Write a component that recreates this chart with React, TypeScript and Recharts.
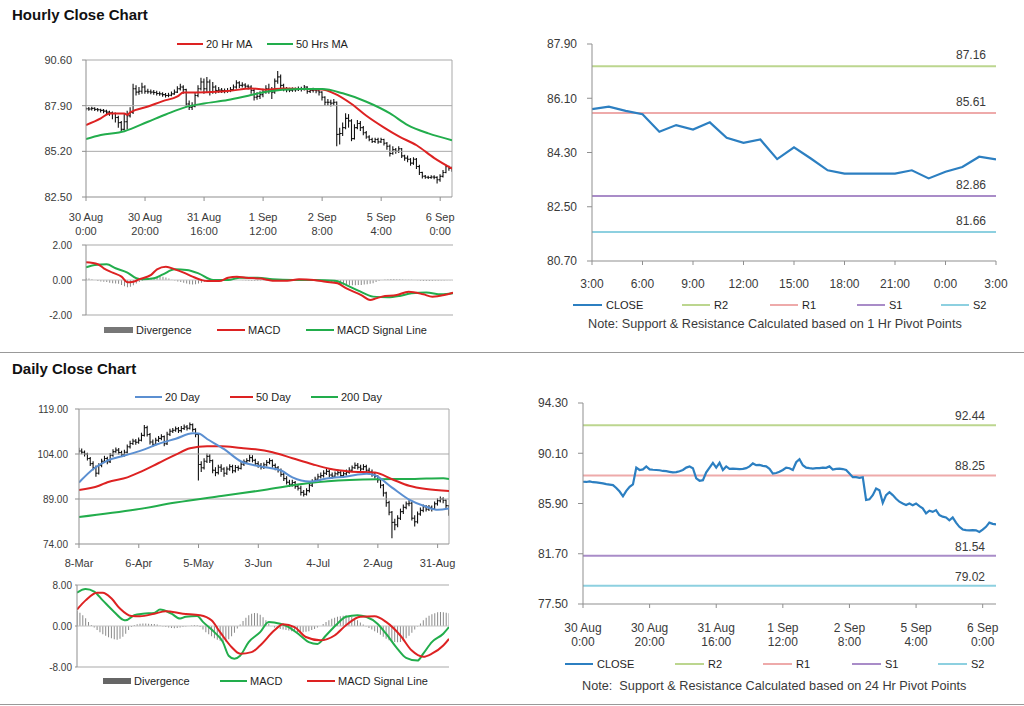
import React from 'react';
import { ComposedChart, LineChart, Line, Bar, XAxis, YAxis, ReferenceLine } from 'recharts';

// ---- hourly chart: 30 Aug 0:00 .. 6 Sep 4:00, one bar per hour ----
const hourTickIdx = [0, 20, 40, 60, 80, 100, 120];
const hourTickLabels = [
  ['30 Aug', '0:00'], ['30 Aug', '20:00'], ['31 Aug', '16:00'], ['1 Sep', '12:00'],
  ['2 Sep', '8:00'], ['5 Sep', '4:00'], ['6 Sep', '0:00'],
];
const hourClose = [
  87.72, 87.70, 87.74, 87.68, 87.66, 87.62, 87.58, 87.52, 87.48, 87.44,
  87.20, 86.90, 86.50, 86.95, 87.30, 87.50, 88.90, 88.70, 88.75, 89.00,
  88.75, 88.72, 88.70, 88.68, 88.62, 88.60, 88.55, 88.50, 88.52, 88.60,
  88.70, 88.90, 89.00, 88.85, 88.00, 87.80, 87.85, 88.50, 88.90, 89.30,
  88.90, 89.30, 88.70, 89.00, 88.80, 88.82, 88.80, 88.78, 88.80, 88.85,
  89.00, 89.25, 89.10, 89.12, 89.05, 89.00, 88.80, 88.40, 88.45, 88.55,
  88.70, 88.90, 88.85, 88.70, 89.35, 89.60, 89.10, 88.90, 88.85, 88.82,
  88.85, 88.85, 88.90, 88.88, 89.00, 88.74, 88.80, 88.82, 88.78, 88.70,
  88.40, 88.10, 88.10, 88.05, 88.10, 86.20, 86.25, 86.60, 87.15, 87.00,
  85.95, 86.60, 86.85, 86.60, 86.30, 86.05, 85.90, 85.78, 85.90, 85.76,
  85.90, 85.68, 85.50, 85.07, 85.30, 85.20, 85.35, 84.93, 84.80, 84.73,
  84.50, 84.73, 84.30, 83.95, 83.73, 83.67, 83.65, 83.68, 83.66, 83.52,
  83.72, 83.95, 84.30, 84.20, 84.15,
];
const hourHigh = [
  87.80, 87.82, 87.84, 87.80, 87.76, 87.72, 87.70, 87.66, 87.60, 87.56,
  87.50, 87.30, 87.00, 87.40, 87.60, 87.80, 89.20, 89.10, 89.00, 89.25,
  89.10, 88.90, 88.85, 88.82, 88.78, 88.74, 88.70, 88.65, 88.66, 88.74,
  88.85, 89.05, 89.20, 89.10, 88.90, 88.20, 88.10, 88.70, 89.10, 89.55,
  89.50, 89.60, 89.45, 89.30, 89.10, 89.00, 88.95, 88.92, 88.94, 89.00,
  89.15, 89.40, 89.35, 89.28, 89.22, 89.15, 89.10, 88.90, 88.70, 88.75,
  88.90, 89.10, 89.20, 89.00, 89.50, 89.95, 89.75, 89.20, 89.00, 88.96,
  88.98, 88.98, 89.04, 89.02, 89.12, 89.05, 88.95, 88.96, 88.92, 88.88,
  88.75, 88.45, 88.30, 88.25, 88.30, 88.15, 86.60, 86.90, 87.45, 87.40,
  87.10, 86.80, 87.05, 87.00, 86.70, 86.40, 86.15, 86.00, 86.00, 86.00,
  86.00, 85.95, 85.75, 85.60, 85.50, 85.40, 85.50, 85.40, 85.00, 84.95,
  84.80, 84.85, 84.80, 84.40, 84.00, 83.80, 83.76, 83.78, 83.78, 83.72,
  83.85, 84.10, 84.40, 84.35, 84.30,
];
const hourLow = [
  87.62, 87.60, 87.62, 87.58, 87.55, 87.50, 87.45, 87.40, 87.30, 87.10,
  86.90, 86.60, 86.40, 86.45, 86.50, 87.20, 87.40, 88.50, 88.55, 88.60,
  88.60, 88.60, 88.58, 88.55, 88.50, 88.48, 88.42, 88.38, 88.40, 88.45,
  88.55, 88.65, 88.80, 88.60, 87.80, 87.65, 87.65, 87.80, 88.40, 88.80,
  88.60, 88.70, 88.50, 88.60, 88.60, 88.65, 88.65, 88.64, 88.66, 88.70,
  88.78, 88.90, 88.95, 88.98, 88.90, 88.85, 88.60, 88.20, 88.25, 88.30,
  88.40, 88.60, 88.60, 88.30, 88.60, 89.20, 88.90, 88.75, 88.70, 88.70,
  88.72, 88.72, 88.76, 88.74, 88.80, 88.60, 88.65, 88.68, 88.64, 88.50,
  88.20, 87.90, 87.90, 87.85, 87.90, 85.50, 85.60, 86.10, 86.50, 86.60,
  85.80, 85.90, 86.50, 86.40, 86.15, 85.95, 85.80, 85.70, 85.70, 85.65,
  85.70, 85.55, 85.30, 84.90, 85.00, 85.05, 85.10, 84.80, 84.65, 84.55,
  84.35, 84.40, 84.15, 83.80, 83.60, 83.58, 83.56, 83.58, 83.55, 83.30,
  83.40, 83.65, 83.90, 84.05, 84.00,
];
// moving averages, [hour index, value]
const hourMa20 = [
  [0, 86.75], [5, 87.15], [8, 87.44], [13, 87.44], [14, 87.36], [15, 87.5], [21, 87.85],
  [26, 88.17], [31, 88.45], [33, 88.68], [41, 88.69], [48, 88.76], [56, 88.92], [61, 88.84],
  [67, 88.92], [73, 88.88], [80, 88.86], [84, 88.63], [90, 88.0], [95, 87.3], [101, 86.6],
  [106, 86.08], [112, 85.56], [118, 84.8], [124, 84.18],
];
const hourMa50 = [
  [0, 85.92], [5, 86.16], [13, 86.39], [21, 86.95], [27, 87.38], [34, 87.83], [40, 88.03],
  [48, 88.23], [55, 88.49], [61, 88.72], [72, 88.88], [80, 88.88], [87, 88.63], [95, 88.13],
  [103, 87.44], [109, 86.75], [116, 86.26], [124, 85.86],
];
const hourMacd = [
  [0, 1.01], [4, 0.9], [6, 0.67], [9, 0.42], [12, 0.19], [14, -0.13], [16, -0.1], [18, 0.04],
  [22, 0.29], [24, 0.61], [27, 0.76], [30, 0.61], [33, 0.42], [36, 0.19], [39, 0], [41, -0.06],
  [45, -0.06], [48, 0.13], [51, 0.19], [54, 0.13], [59, 0.08], [63, -0.04], [68, -0.04],
  [72, 0.04], [77, 0], [81, -0.1], [85, -0.19], [88, -0.48], [93, -0.86], [96, -1.14],
  [98, -1.05], [100, -0.95], [105, -0.86], [109, -0.67], [114, -0.82], [117, -0.95],
  [121, -0.86], [124, -0.72],
];
const hourSignal = [
  [0, 0.72], [3, 0.86], [7, 0.9], [10, 0.67], [14, 0.42], [17, 0.1], [19, 0.04], [23, 0.1],
  [26, 0.32], [30, 0.61], [34, 0.57], [38, 0.38], [43, 0], [48, 0], [52, 0.13], [58, 0.13],
  [63, 0.04], [70, 0], [77, 0], [84, -0.04], [88, -0.29], [92, -0.61], [97, -0.95],
  [102, -0.99], [106, -0.91], [110, -0.76], [115, -0.72], [120, -0.82], [124, -0.76],
];
const hourDiv = [
  0.10, 0.08, 0.05, 0.00, -0.05, -0.08, -0.10, -0.12, -0.15, -0.18,
  -0.20, -0.22, -0.28, -0.35, -0.42, -0.38, -0.30, -0.20, -0.12, -0.05,
  0.00, 0.05, 0.10, 0.14, 0.18, 0.20, 0.18, 0.14, 0.08, 0.02,
  -0.03, -0.08, -0.12, -0.16, -0.20, -0.24, -0.25, -0.24, -0.20, -0.15,
  -0.10, -0.06, -0.03, 0.00, 0.03, 0.05, 0.06, 0.06, 0.05, 0.04,
  0.03, 0.02, 0.00, -0.02, -0.03, -0.04, -0.05, -0.05, -0.04, -0.03,
  -0.02, -0.02, -0.03, -0.04, -0.04, -0.03, -0.02, 0.00, 0.02, 0.03,
  0.03, 0.02, 0.01, 0.00, -0.01, -0.02, -0.03, -0.04, -0.05, -0.06,
  -0.07, -0.08, -0.10, -0.12, -0.15, -0.18, -0.22, -0.25, -0.28, -0.30,
  -0.30, -0.30, -0.28, -0.28, -0.26, -0.24, -0.22, -0.18, -0.12, -0.06,
  0.00, 0.03, 0.05, 0.06, 0.06, 0.05, 0.04, 0.03, 0.02, 0.02,
  0.01, 0.00, -0.02, -0.04, -0.05, -0.06, -0.06, -0.05, -0.04, -0.04,
  -0.03, -0.03, -0.02, -0.02, -0.01,
];

// ---- last 24 hours with 1 hr pivots ----
const pivotTickIdx = [0, 3, 6, 9, 12, 15, 18, 21, 24];
const pivotTickLabels = ['3:00', '6:00', '9:00', '12:00', '15:00', '18:00', '21:00', '0:00', '3:00'];
const pivotClose = [
  85.74, 85.82, 85.68, 85.57, 84.99, 85.21, 85.06, 85.3, 84.79, 84.62, 84.73, 84.08, 84.47,
  84.1, 83.71, 83.6, 83.6, 83.6, 83.6, 83.71, 83.44, 83.66, 83.82, 84.16, 84.07,
];
const pivotNames = ['R2', 'R1', 'S1', 'S2'];
const hourPivots = [87.16, 85.61, 82.86, 81.66];
const dayPivots = [92.44, 88.25, 81.54, 79.02];

// ---- daily chart: 8 Mar .. 6 Sep, trading days ----
const dayTickIdx = [0, 21, 42, 63, 84, 105, 126];
const dayTickLabels = ['8-Mar', '6-Apr', '5-May', '3-Jun', '4-Jul', '2-Aug', '31-Aug'];
const dayClose = [
  105.0, 104.6, 104.0, 102.5, 100.8, 99.5, 97.6, 100.2, 101.6, 102.5,
  101.4, 103.6, 104.8, 105.3, 104.5, 103.8, 104.6, 106.4, 107.5, 108.3,
  107.9, 108.6, 110.2, 112.8, 110.5, 108.0, 107.2, 108.6, 109.2, 109.8,
  107.4, 110.6, 111.6, 111.9, 112.4, 111.8, 112.5, 113.0, 112.6, 113.8,
  112.2, 110.5, 100.5, 99.4, 101.6, 103.2, 101.8, 98.6, 97.8, 99.6,
  99.0, 97.6, 99.0, 99.8, 98.4, 99.5, 99.2, 100.6, 101.4, 101.8,
  102.8, 101.9, 100.8, 100.2, 99.6, 100.4, 101.2, 101.8, 100.2, 99.4,
  98.6, 97.2, 95.8, 94.6, 93.9, 94.5, 93.2, 92.6, 91.2, 90.6,
  91.8, 93.6, 94.8, 95.6, 96.4, 96.8, 97.6, 98.2, 97.0, 96.6,
  97.4, 97.8, 96.8, 97.4, 97.9, 98.6, 99.4, 100.2, 99.6, 99.0,
  99.8, 98.6, 98.0, 97.2, 96.5, 95.4, 93.6, 91.0, 87.8, 84.6,
  81.2, 80.4, 82.6, 84.8, 86.2, 87.4, 87.6, 82.6, 81.4, 84.0,
  85.2, 86.4, 85.6, 86.2, 85.8, 87.4, 88.4, 89.0, 88.6, 86.8,
  84.2,
];
const dayHigh = [
  106.1, 105.8, 105.2, 104.4, 103.0, 101.6, 100.2, 100.9, 102.4, 103.4,
  103.1, 104.3, 105.6, 106.2, 106.0, 105.1, 105.4, 107.2, 108.4, 109.1,
  109.0, 109.5, 111.1, 113.7, 113.4, 111.0, 108.8, 109.4, 110.0, 110.6,
  110.2, 111.4, 112.4, 112.7, 113.2, 113.0, 113.3, 113.8, 113.7, 114.5,
  114.2, 112.6, 110.8, 101.6, 102.6, 104.2, 104.0, 102.2, 99.6, 100.4,
  100.6, 99.6, 99.8, 100.6, 100.4, 100.3, 100.2, 101.4, 102.2, 102.6,
  103.8, 103.6, 102.4, 101.6, 101.0, 101.2, 102.0, 102.6, 102.2, 100.8,
  100.0, 99.2, 97.8, 96.6, 95.4, 95.4, 95.0, 94.0, 93.4, 92.0,
  92.6, 94.4, 95.6, 96.4, 97.4, 97.8, 98.6, 99.2, 98.8, 97.8,
  98.2, 98.8, 98.6, 98.2, 98.8, 99.6, 100.2, 101.2, 101.0, 100.4,
  100.6, 100.4, 99.4, 98.8, 97.8, 97.0, 95.8, 94.0, 91.4, 88.4,
  85.0, 82.4, 83.6, 85.8, 87.2, 88.2, 88.6, 88.0, 83.6, 84.8,
  86.2, 87.2, 87.0, 87.0, 86.8, 88.2, 89.2, 89.8, 89.6, 88.8,
  87.0,
];
const dayLow = [
  104.2, 103.9, 103.2, 101.8, 100.0, 98.6, 96.4, 97.2, 99.6, 101.0,
  100.6, 101.0, 103.1, 104.4, 103.8, 103.0, 103.2, 104.2, 105.8, 107.0,
  107.1, 107.4, 108.2, 109.8, 109.8, 107.2, 106.4, 106.8, 108.0, 108.6,
  106.6, 107.0, 110.0, 111.0, 111.4, 111.0, 111.2, 112.0, 111.8, 112.2,
  111.4, 109.6, 95.2, 98.0, 98.8, 101.0, 101.0, 97.6, 96.6, 97.2,
  98.0, 96.4, 97.0, 98.4, 97.6, 97.8, 98.4, 98.8, 100.0, 100.8,
  101.4, 101.2, 100.0, 99.4, 98.8, 99.0, 99.8, 100.6, 99.4, 98.6,
  97.8, 96.4, 95.0, 93.8, 93.0, 93.2, 92.4, 91.8, 90.2, 89.8,
  90.2, 91.2, 93.0, 94.4, 95.0, 95.8, 96.2, 97.0, 96.2, 95.8,
  96.0, 96.8, 96.0, 96.2, 96.8, 97.4, 98.2, 99.0, 98.8, 98.2,
  98.6, 97.8, 97.2, 96.4, 95.8, 94.4, 92.6, 89.8, 86.4, 83.6,
  75.9, 78.6, 79.6, 82.0, 84.0, 85.6, 86.6, 81.8, 79.8, 80.8,
  83.4, 84.6, 84.8, 85.0, 84.8, 85.4, 86.8, 87.8, 87.6, 86.0,
  83.4,
];
const dayMa20 = [
  [0, 94.5], [5, 99.0], [10, 101.8], [16, 103.5], [22, 105.2], [28, 107.4], [34, 109.1],
  [40, 110.9], [42, 110.8], [45, 109.0], [51, 105.6], [57, 101.5], [62, 100.2], [66, 99.5],
  [71, 98.5], [75, 96.2], [81, 94.8], [87, 95.8], [94, 96.5], [101, 97.4], [104, 96.9],
  [110, 92.8], [116, 88.8], [122, 86.4], [126, 85.4], [130, 85.8],
];
const dayMa50 = [
  [0, 92.0], [7, 93.4], [10, 94.6], [17, 96.2], [22, 98.2], [28, 101.0], [34, 103.8],
  [39, 105.9], [45, 106.6], [50, 106.6], [57, 106.0], [62, 105.6], [68, 104.6], [75, 102.6],
  [82, 100.6], [88, 99.1], [95, 98.2], [104, 97.8], [110, 95.6], [116, 93.4], [122, 92.3],
  [130, 91.7],
];
const dayMa200 = [
  [0, 83.0], [20, 85.5], [34, 87.8], [50, 90.0], [65, 92.0], [81, 94.3], [95, 95.3],
  [105, 95.6], [118, 95.7], [128, 95.9], [130, 95.7],
];
const dayMacd = [
  [0, 6.5], [3, 7.2], [6, 6.7], [9, 5.0], [13, 2.75], [16, 1.25], [17, 1.1], [20, 2.1],
  [23, 2.4], [27, 2.55], [29, 3.2], [33, 2.4], [36, 1.45], [38, 1.8], [42, 1.95], [44, 0.8],
  [48, -1.2], [51, -3.15], [53, -5.8], [55, -6.4], [57, -5.8], [60, -3.15], [64, -1.2],
  [67, 0.8], [71, 0.45], [74, -0.2], [78, -1.85], [81, -3.15], [84, -3.5], [87, -1.85],
  [91, 0.45], [94, 1.8], [98, 2.1], [101, 1.8], [105, 0.45], [108, -1.5], [112, -4.45],
  [115, -6.2], [119, -6.75], [121, -5.4], [124, -3.15], [128, -1.5], [130, -0.2],
];
const daySignal = [
  [0, 3.2], [3, 5.0], [7, 6.5], [9, 6.5], [12, 5.4], [15, 3.4], [19, 1.95], [22, 1.9],
  [27, 2.4], [31, 2.9], [37, 2.4], [43, 2.1], [47, 1.1], [50, -1.2], [54, -4.1], [57, -5.4],
  [61, -5.1], [64, -3.8], [69, -0.85], [72, 0.35], [76, -0.2], [80, -2.15], [85, -2.8],
  [90, -1.85], [94, 0.15], [99, 1.8], [104, 1.9], [108, 0.8], [113, -1.85], [117, -4.8],
  [121, -6.0], [124, -5.4], [128, -3.8], [130, -2.5],
];
const dayDiv = [
  3.0, 2.6, 2.1, 1.5, 0.8, 0.2, -0.3, -0.8, -1.2, -1.6,
  -1.9, -2.2, -2.4, -2.6, -2.7, -2.5, -2.1, -1.5, -0.8, -0.2,
  0.2, 0.35, 0.45, 0.5, 0.5, 0.45, 0.4, 0.4, 0.3, 0.1,
  -0.1, -0.2, -0.3, -0.4, -0.45, -0.4, -0.3, -0.2, -0.1, 0.0,
  0.1, 0.2, 0.15, -0.2, -0.7, -1.2, -1.6, -2.0, -2.4, -2.7,
  -2.9, -3.1, -3.0, -2.6, -2.0, -1.3, -0.5, 0.3, 1.0, 1.6,
  2.1, 2.4, 2.55, 2.5, 2.2, 1.7, 1.1, 0.5, 0.0, -0.3,
  -0.5, -0.6, -0.7, -0.8, -0.9, -1.0, -1.1, -1.2, -1.2, -1.2,
  -1.1, -1.0, -0.8, -0.6, -0.3, 0.0, 0.4, 0.8, 1.1, 1.4,
  1.6, 1.8, 1.9, 2.0, 2.1, 2.0, 1.8, 1.5, 1.1, 0.7,
  0.3, -0.1, -0.4, -0.7, -1.0, -1.3, -1.7, -2.1, -2.5, -2.8,
  -3.0, -3.1, -3.15, -3.1, -2.8, -2.4, -1.9, -1.3, -0.7, -0.1,
  0.5, 1.1, 1.6, 2.0, 2.3, 2.5, 2.7, 2.75, 2.7, 2.6,
  2.5,
];

const hourYTicks = [82.5, 85.2, 87.9, 90.6];
const pivotYTicks = [80.7, 82.5, 84.3, 86.1, 87.9];
const dayYTicks = [74, 89, 104, 119];
const closeYTicks = [77.5, 81.7, 85.9, 90.1, 94.3];

// ---- styling ----
const FONT = "'Liberation Sans', Arial, Helvetica, sans-serif";
const TEXT = '#1e1e1e';
const TEXT2 = '#3a3a3a';
const GRID = '#a9a9a9';
const AXIS = '#8f8f8f';
const RED = '#dd2222';
const GREEN = '#22ad4c';
const MA_BLUE = '#5b8fd1';
const CLOSE_BLUE = '#2c7fc1';
const DIV_GRAY = '#8a8a8a';
const PIVOT_COLORS = ['#bcd68f', '#eeaaaa', '#a98cc8', '#8dd0e0'];

const ohlcRows = (close: number[], high: number[], low: number[]) =>
  close.map((c, i) => ({ x: i, open: i ? close[i - 1] : c, close: c, high: high[i], low: low[i] }));
const pairRows = (pairs: number[][]) => pairs.map(([x, y]) => ({ x, y }));
const seqRows = (vals: number[]) => vals.map((y, x) => ({ x, y }));
const fix2 = (v: number) => v.toFixed(2);

const OhlcShape = (props: any) => {
  const { x, y, width, height, payload } = props;
  if (!payload) return null;
  const top = Math.min(y, y + height);
  const h = Math.abs(height);
  const span = payload.high - payload.low || 1;
  const at = (v: number) => top + ((payload.high - v) / span) * h;
  const cx = x + width / 2;
  return (
    <g stroke="#111" strokeWidth={1.1}>
      <line x1={cx} x2={cx} y1={top} y2={top + h} />
      <line x1={cx - 1.4} x2={cx} y1={at(payload.open)} y2={at(payload.open)} />
      <line x1={cx} x2={cx + 1.4} y1={at(payload.close)} y2={at(payload.close)} />
    </g>
  );
};

const TwoLineTick = (props: any) => {
  const { x, y, payload, labels, idx, dy1, fontSize } = props;
  const k = idx.indexOf(payload.value);
  if (k < 0) return null;
  return (
    <text x={x} y={y} textAnchor="middle" fontSize={fontSize} fill={TEXT2} fontFamily={FONT}>
      <tspan x={x} dy={dy1}>{labels[k][0]}</tspan>
      <tspan x={x} dy={14}>{labels[k][1]}</tspan>
    </text>
  );
};

const pivotLabel = (v: number, lift: number, inset: number) => (p: any) => {
  const vb = p.viewBox || { x: 0, y: 0, width: 0 };
  return (
    <text x={vb.x + vb.width - inset} y={vb.y - lift} textAnchor="end" fontSize={12} fill={TEXT2} fontFamily={FONT}>
      {fix2(v)}
    </text>
  );
};

type Item = { label: string; color: string; x: number; w: number; box?: boolean };
const LegendRow = ({ y, items, fontSize, gap }: { y: number; items: Item[]; fontSize: number; gap: number }) => (
  <>
    {items.map((it) => (
      <div
        key={it.label}
        style={{
          position: 'absolute', left: it.x, top: y - 9, height: 18, display: 'flex',
          alignItems: 'center', fontSize, color: TEXT, whiteSpace: 'nowrap',
        }}
      >
        <span style={{ display: 'inline-block', width: it.w, height: it.box ? 6 : 2, background: it.color, marginRight: gap }} />
        <span>{it.label}</span>
      </div>
    ))}
  </>
);

const box = (left: number, top: number): React.CSSProperties => ({ position: 'absolute', left, top });

const App = () => {
  const hourBars = ohlcRows(hourClose, hourHigh, hourLow);
  const dayBars = ohlcRows(dayClose, dayHigh, dayLow);
  const axisProps = { axisLine: { stroke: AXIS }, tickLine: { stroke: AXIS } };

  return (
    <div style={{ position: 'absolute', left: 0, top: 0, width: 1024, height: 706, background: '#fff', fontFamily: FONT, overflow: 'hidden' }}>
      <div style={{ ...box(12, 6), fontSize: 15, fontWeight: 'bold', color: '#111' }}>Hourly Close Chart</div>
      <div style={{ ...box(12, 360), fontSize: 15, fontWeight: 'bold', color: '#111' }}>Daily Close Chart</div>
      <div style={{ ...box(0, 352), width: 1024, height: 1, background: '#999' }} />
      <div style={{ ...box(0, 704), width: 1024, height: 1, background: '#999' }} />

      {/* hourly price with moving averages */}
      <div style={box(0, 30)}>
        <ComposedChart width={470} height={210} data={hourBars} margin={{ top: 30, right: 18, bottom: 0, left: 0 }}>
          <XAxis
            type="number" dataKey="x" domain={[0, 124]} ticks={hourTickIdx} interval={0} height={43}
            tickSize={4} tickMargin={0} allowDataOverflow {...axisProps}
            tick={<TwoLineTick labels={hourTickLabels} idx={hourTickIdx} dy1={20} fontSize={11} />}
          />
          <YAxis
            type="number" domain={[82.5, 90.6]} ticks={hourYTicks} interval={0} width={86} tickSize={4} tickMargin={10}
            tickFormatter={fix2} tick={{ fontSize: 11, fill: TEXT2 }} allowDataOverflow {...axisProps}
          />
          {hourYTicks.slice(1).map((v) => <ReferenceLine key={v} y={v} stroke={GRID} />)}
          <ReferenceLine x={124} stroke={GRID} />
          <Bar dataKey={(d: any) => [d.low, d.high]} shape={OhlcShape} barSize={3} isAnimationActive={false} />
          <Line data={pairRows(hourMa20)} dataKey="y" type="monotone" stroke={RED} strokeWidth={2} dot={false} isAnimationActive={false} />
          <Line data={pairRows(hourMa50)} dataKey="y" type="monotone" stroke={GREEN} strokeWidth={2} dot={false} isAnimationActive={false} />
        </ComposedChart>
      </div>
      <LegendRow y={44} fontSize={11} gap={3} items={[
        { label: '20 Hr MA', color: RED, x: 177, w: 26 },
        { label: '50 Hrs MA', color: GREEN, x: 267, w: 26 },
      ]} />

      {/* hourly MACD */}
      <div style={box(0, 235)}>
        <ComposedChart width={470} height={110} data={seqRows(hourDiv)} margin={{ top: 10, right: 17, bottom: 30, left: 0 }}>
          <XAxis type="number" dataKey="x" domain={[0, 124]} hide allowDataOverflow />
          <YAxis
            type="number" domain={[-2, 2]} ticks={[-2, 0, 2]} interval={0} width={86} tickSize={4} tickMargin={10}
            tickFormatter={fix2} tick={{ fontSize: 10, fill: TEXT2 }} allowDataOverflow {...axisProps}
          />
          <ReferenceLine y={2} stroke={GRID} />
          <ReferenceLine y={-2} stroke={GRID} />
          <ReferenceLine y={0} stroke="#c4c4c4" />
          <Bar dataKey="y" fill={DIV_GRAY} barSize={1} isAnimationActive={false} />
          <Line data={pairRows(hourSignal)} dataKey="y" type="monotone" stroke={GREEN} strokeWidth={2} dot={false} isAnimationActive={false} />
          <Line data={pairRows(hourMacd)} dataKey="y" type="monotone" stroke={RED} strokeWidth={2} dot={false} isAnimationActive={false} />
        </ComposedChart>
      </div>
      <LegendRow y={330} fontSize={11} gap={3} items={[
        { label: 'Divergence', color: '#777', x: 104, w: 29, box: true },
        { label: 'MACD', color: RED, x: 217, w: 28 },
        { label: 'MACD Signal Line', color: GREEN, x: 306, w: 28 },
      ]} />

      {/* last 24 hours with 1 hr pivots */}
      <div style={box(520, 30)}>
        <LineChart width={500} height={290} margin={{ top: 14, right: 24, bottom: 29, left: 0 }}>
          <XAxis
            type="number" dataKey="x" domain={[0, 24]} ticks={pivotTickIdx} interval={0} height={30} tickSize={4} tickMargin={14}
            tickFormatter={(v: number) => pivotTickLabels[pivotTickIdx.indexOf(v)]} tick={{ fontSize: 12, fill: TEXT2 }}
            allowDataOverflow {...axisProps}
          />
          <YAxis
            type="number" domain={[80.7, 87.9]} ticks={pivotYTicks} interval={0} width={72} tickSize={5} tickMargin={10}
            tickFormatter={fix2} tick={{ fontSize: 12, fill: TEXT2 }} allowDataOverflow {...axisProps}
          />
          {hourPivots.map((v, k) => (
            <ReferenceLine key={pivotNames[k]} y={v} stroke={PIVOT_COLORS[k]} strokeWidth={2} label={pivotLabel(v, 7, 10)} />
          ))}
          <Line data={seqRows(pivotClose)} dataKey="y" stroke={CLOSE_BLUE} strokeWidth={2.2} dot={false} isAnimationActive={false} />
        </LineChart>
      </div>
      <LegendRow y={305} fontSize={11} gap={4} items={[
        { label: 'CLOSE', color: CLOSE_BLUE, x: 573, w: 29 },
        ...pivotNames.map((n, k) => ({ label: n, color: PIVOT_COLORS[k], x: [682, 770, 857, 941][k], w: 28 })),
      ]} />
      <div style={{ ...box(588, 317), fontSize: 12.7, color: TEXT2, whiteSpace: 'pre' }}>
        Note: Support &amp; Resistance Calculated based on 1 Hr Pivot Points
      </div>

      {/* daily price with moving averages */}
      <div style={box(0, 385)}>
        <ComposedChart width={470} height={190} data={dayBars} margin={{ top: 24, right: 21, bottom: 0, left: 0 }}>
          <XAxis
            type="number" dataKey="x" domain={[0, 130]} ticks={dayTickIdx} interval={0} height={31} tickSize={4} tickMargin={11}
            tickFormatter={(v: number) => dayTickLabels[dayTickIdx.indexOf(v)]} tick={{ fontSize: 11, fill: TEXT2 }}
            allowDataOverflow {...axisProps}
          />
          <YAxis
            type="number" domain={[74, 119]} ticks={dayYTicks} interval={0} width={79} tickSize={4} tickMargin={7}
            tickFormatter={fix2} tick={{ fontSize: 10, fill: TEXT2 }} allowDataOverflow {...axisProps}
          />
          {dayYTicks.slice(1).map((v) => <ReferenceLine key={v} y={v} stroke={GRID} />)}
          <ReferenceLine x={130} stroke={GRID} />
          <Bar dataKey={(d: any) => [d.low, d.high]} shape={OhlcShape} barSize={3} isAnimationActive={false} />
          <Line data={pairRows(dayMa200)} dataKey="y" type="monotone" stroke={GREEN} strokeWidth={2} dot={false} isAnimationActive={false} />
          <Line data={pairRows(dayMa50)} dataKey="y" type="monotone" stroke={RED} strokeWidth={2} dot={false} isAnimationActive={false} />
          <Line data={pairRows(dayMa20)} dataKey="y" type="monotone" stroke={MA_BLUE} strokeWidth={2} dot={false} isAnimationActive={false} />
        </ComposedChart>
      </div>
      <LegendRow y={397} fontSize={11} gap={3} items={[
        { label: '20 Day', color: MA_BLUE, x: 135, w: 27 },
        { label: '50 Day', color: RED, x: 230, w: 23 },
        { label: '200 Day', color: GREEN, x: 311, w: 27 },
      ]} />

      {/* daily MACD */}
      <div style={box(0, 575)}>
        <ComposedChart width={470} height={100} data={seqRows(dayDiv)} margin={{ top: 10, right: 21, bottom: 8, left: 0 }}>
          <XAxis type="number" dataKey="x" domain={[0, 130]} hide allowDataOverflow />
          <YAxis
            type="number" domain={[-8, 8]} ticks={[-8, 0, 8]} interval={0} width={77} tickSize={2} tickMargin={3}
            tickFormatter={fix2} tick={{ fontSize: 10, fill: TEXT2 }} allowDataOverflow {...axisProps}
          />
          <ReferenceLine y={8} stroke={GRID} />
          <ReferenceLine y={-8} stroke={GRID} />
          <ReferenceLine y={0} stroke="#c4c4c4" />
          <Bar dataKey="y" fill={DIV_GRAY} barSize={1} isAnimationActive={false} />
          <Line data={pairRows(dayMacd)} dataKey="y" type="monotone" stroke={GREEN} strokeWidth={2} dot={false} isAnimationActive={false} />
          <Line data={pairRows(daySignal)} dataKey="y" type="monotone" stroke={RED} strokeWidth={2} dot={false} isAnimationActive={false} />
        </ComposedChart>
      </div>
      <LegendRow y={681} fontSize={11} gap={3} items={[
        { label: 'Divergence', color: '#666', x: 103, w: 28, box: true },
        { label: 'MACD', color: GREEN, x: 220, w: 27 },
        { label: 'MACD Signal Line', color: RED, x: 307, w: 28 },
      ]} />

      {/* hourly close with 24 hr pivots */}
      <div style={box(520, 385)}>
        <LineChart width={500} height={280} margin={{ top: 18, right: 24, bottom: 11, left: 0 }}>
          <XAxis
            type="number" dataKey="x" domain={[0, 124]} ticks={hourTickIdx} interval={0} height={50}
            tickSize={4} tickMargin={0} allowDataOverflow {...axisProps}
            tick={<TwoLineTick labels={hourTickLabels} idx={hourTickIdx} dy1={24} fontSize={12} />}
          />
          <YAxis
            type="number" domain={[77.5, 94.3]} ticks={closeYTicks} interval={0} width={63} tickSize={5} tickMargin={10}
            tickFormatter={fix2} tick={{ fontSize: 12, fill: TEXT2 }} allowDataOverflow {...axisProps}
          />
          {dayPivots.map((v, k) => (
            <ReferenceLine key={pivotNames[k]} y={v} stroke={PIVOT_COLORS[k]} strokeWidth={2} label={pivotLabel(v, 5, 11)} />
          ))}
          <Line data={seqRows(hourClose)} dataKey="y" stroke={CLOSE_BLUE} strokeWidth={2.2} dot={false} isAnimationActive={false} />
        </LineChart>
      </div>
      <LegendRow y={664} fontSize={11} gap={4} items={[
        { label: 'CLOSE', color: CLOSE_BLUE, x: 565, w: 28 },
        ...pivotNames.map((n, k) => ({ label: n, color: PIVOT_COLORS[k], x: [675, 763, 852, 938][k], w: 29 })),
      ]} />
      <div style={{ ...box(582, 679), fontSize: 12.7, color: TEXT2, whiteSpace: 'pre' }}>
        {'Note:  Support & Resistance Calculated based on 24 Hr Pivot Points'}
      </div>
    </div>
  );
};

export default App;
